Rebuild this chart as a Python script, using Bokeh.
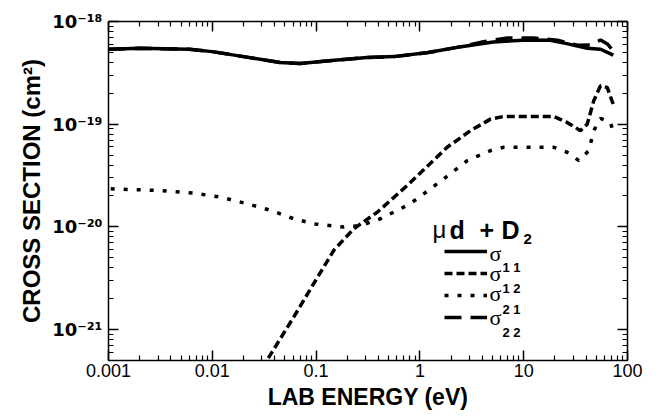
from bokeh.plotting import figure
from bokeh.models import (Range1d, LogAxis, FixedTicker, CustomJSTickFormatter,
                          Label, Legend, LegendItem, Title)
from bokeh.embed import file_html
from bokeh.resources import INLINE
from bokeh.core.properties import value

# ---------------- data ----------------
x_ticks = [0.001, 0.01, 0.1, 1, 10, 100]
x_tick_labels = ["0.001", "0.01", "0.1", "1", "10", "100"]
y_ticks = [1e-21, 1e-20, 1e-19, 1e-18]
y_tick_labels = ["10⁻²¹", "10⁻²⁰", "10⁻¹⁹", "10⁻¹⁸"]

# sigma_11 (solid)
e11 = [0.001, 0.002, 0.006, 0.01, 0.023, 0.045, 0.07, 0.15, 0.31, 0.56, 1.2, 2.5,
       5.1, 11, 18, 26, 41, 55, 73]
s11 = [5.37e-19, 5.49e-19, 5.37e-19, 5.09e-19, 4.45e-19, 3.98e-19, 3.89e-19, 4.20e-19,
       4.45e-19, 4.55e-19, 4.98e-19, 5.69e-19, 6.32e-19, 6.61e-19, 6.56e-19, 6.09e-19,
       5.49e-19, 5.37e-19, 4.70e-19]

# sigma_12 (dashed)
e12 = [0.03, 0.0338, 0.061, 0.095, 0.148, 0.231, 0.388, 0.755, 1.83, 3.07, 4.79, 6.43,
       11.6, 19.5, 26.2, 35.2, 40.9, 47.3, 54.9, 63.7, 73.8]
s12 = [4.2e-22, 5.06e-22, 1.33e-21, 2.81e-21, 5.91e-21, 9.61e-21, 1.39e-20, 2.53e-20,
       5.96e-20, 8.65e-20, 1.12e-19, 1.19e-19, 1.19e-19, 1.19e-19, 1.04e-19, 8.65e-20,
       1.0e-19, 1.69e-19, 2.37e-19, 2.28e-19, 1.51e-19]

# sigma_21 (dotted)
e21 = [0.00105, 0.00317, 0.00664, 0.012, 0.0217, 0.0364, 0.061, 0.095, 0.185, 0.268,
       0.417, 0.755, 0.942, 1.70, 2.86, 4.79, 6.43, 11.6, 19.5, 26.2, 34.0, 42.4, 47.3,
       54.9, 68.5, 73.8]
s21 = [2.35e-20, 2.26e-20, 2.13e-20, 1.95e-20, 1.68e-20, 1.45e-20, 1.20e-20, 1.07e-20,
       9.95e-21, 1.03e-20, 1.20e-20, 1.62e-20, 1.88e-20, 2.94e-20, 4.42e-20, 5.53e-20,
       5.96e-20, 5.96e-20, 5.96e-20, 5.33e-20, 4.42e-20, 5.53e-20, 8.65e-20, 1.14e-19,
       1.04e-19, 8.04e-20]

# sigma_22 (long dashed)
e22 = [0.001, 0.002, 0.006, 0.01, 0.023, 0.045, 0.07, 0.15, 0.31, 0.56, 1.2, 2.5,
       4.1, 7.0, 12.4, 21.1, 33, 44, 55, 64, 75]
s22 = [5.37e-19, 5.49e-19, 5.37e-19, 5.09e-19, 4.45e-19, 3.98e-19, 3.89e-19, 4.20e-19,
       4.45e-19, 4.55e-19, 4.98e-19, 5.69e-19, 6.37e-19, 6.92e-19, 6.92e-19, 6.56e-19,
       5.87e-19, 5.9e-19, 6.61e-19, 6.05e-19, 5.0e-19]

legend_sub = ["1 1", "1 2", "2 1", "2 2"]

XMIN, XMAX = 1e-3, 100
YMIN, YMAX = 5e-22, 1e-18

# frame edges on the page (px): left 108, top 21, right 627, bottom 360
p = figure(width=652, height=414, x_axis_type="log", y_axis_type="log",
           x_range=Range1d(XMIN, XMAX), y_range=Range1d(YMIN, YMAX),
           output_backend="svg", toolbar_location=None,
           min_border_left=108, min_border_right=25, min_border_top=21,
           min_border_bottom=54, background_fill_color="white",
           border_fill_color="white", outline_line_color=None)
p.xgrid.visible = False
p.ygrid.visible = False

x_minor = [m * 10.0 ** k for k in range(-3, 2) for m in range(2, 10)]
y_minor = [m * 10.0 ** k for k in range(-22, -18) for m in range(2, 10)]

NEAREST = """
let best = 0, bd = Infinity;
for (let i = 0; i < tvals.length; i++) {
  const d = Math.abs(Math.log10(tick) - Math.log10(tvals[i]));
  if (d < bd) { bd = d; best = i; }
}
return tlabels[best];
"""
fmt_x = CustomJSTickFormatter(args=dict(tvals=x_ticks, tlabels=x_tick_labels), code=NEAREST)
fmt_y = CustomJSTickFormatter(args=dict(tvals=y_ticks, tlabels=y_tick_labels), code=NEAREST)
fmt_none = CustomJSTickFormatter(code="return '';")


def style_axis(ax, ticks, minor, fmt=None):
    ax.ticker = FixedTicker(ticks=ticks, minor_ticks=minor)
    ax.axis_label = None
    ax.axis_line_color = "black"
    ax.axis_line_width = 1.5
    ax.major_tick_in = 10
    ax.minor_tick_in = 5
    ax.major_tick_out = 0
    ax.minor_tick_out = 0
    ax.major_tick_line_color = "black"
    ax.minor_tick_line_color = "black"
    ax.major_tick_line_width = 1.5
    ax.minor_tick_line_width = 1.2
    if fmt is None:
        ax.formatter = fmt_none
        ax.major_label_text_font_size = "0px"
        ax.major_label_standoff = 0
    else:
        ax.formatter = fmt
        ax.major_label_text_color = "black"


# bottom axis with the energy labels
style_axis(p.xaxis[0], x_ticks, x_minor, fmt_x)
p.xaxis[0].major_label_text_font = "Liberation Sans"
p.xaxis[0].major_label_text_font_size = "18px"
p.xaxis[0].major_label_standoff = 3

# left axis with 10^n labels
style_axis(p.yaxis[0], y_ticks, y_minor, fmt_y)
p.yaxis[0].major_label_text_font = "DejaVu Sans"
p.yaxis[0].major_label_text_font_size = "18px"
p.yaxis[0].major_label_text_font_style = "bold"
p.yaxis[0].major_label_standoff = 6

top_ax = LogAxis()
style_axis(top_ax, x_ticks, x_minor)
p.add_layout(top_ax, "above")
right_ax = LogAxis()
style_axis(right_ax, y_ticks, y_minor)
p.add_layout(right_ax, "right")

# axis titles
p.add_layout(Title(text="LAB ENERGY (eV)", align="center", text_font="Liberation Sans",
                   text_font_size="23px", text_font_style="bold", text_color="black",
                   text_line_height=1.0, standoff=4), "below")
p.add_layout(Title(text="CROSS SECTION (cm²)", align="center",
                   text_font="Liberation Sans", text_font_size="24px",
                   text_font_style="bold", text_color="black", text_line_height=1.0,
                   standoff=10), "left")

# ---------------- curves ----------------
r11 = p.line(e11, s11, line_color="black", line_width=3.5)
r22 = p.line(e22, s22, line_color="black", line_width=3.5, line_dash="17 9")
r12 = p.line(e12, s12, line_color="black", line_width=3.5, line_dash="8 4")
r21 = p.line(e21, s21, line_color="black", line_width=3.5, line_dash="4 9")

# ---------------- legend (sample lines; the sigma symbols are drawn as labels) ----------------
legend = Legend(items=[LegendItem(label=value(" "), renderers=[r]) for r in (r11, r12, r21, r22)],
                location=(336, 32), glyph_width=43, glyph_height=22, label_height=22,
                spacing=0, padding=0, margin=0, border_line_alpha=0,
                background_fill_alpha=0, label_standoff=0, label_width=1,
                label_text_font_size="4px", label_text_color="black")
p.add_layout(legend)


def lab(text, dx, dy, size, bold=True, font="Liberation Sans"):
    p.add_layout(Label(x=XMIN, y=YMIN, x_offset=dx, y_offset=dy, text=text,
                       text_font=font, text_font_size=size,
                       text_font_style="bold" if bold else "normal",
                       text_align="left", text_baseline="alphabetic",
                       text_color="black"))


# legend title  "μd + D2"
lab("μ", 432 - 108, 360 - 229, "24px", bold=False)
lab("d", 449 - 108, 360 - 229, "25px")
lab("+", 479 - 108, 360 - 229, "25px")
lab("D", 501 - 108, 360 - 229, "25px")
lab("2", 523 - 108, 360 - 238, "15px")

# legend sigma symbols
for yb in [253, 273, 293, 317]:
    lab("σ", 489 - 108, 360 - yb, "22px", bold=False, font="Liberation Serif")

# legend sub/superscript digits
for txt, yb in zip(legend_sub, [267, 288, 309, 332]):
    lab(txt, 502 - 108, 360 - yb, "13px")

open("out.html", "w").write(file_html(p, INLINE))
